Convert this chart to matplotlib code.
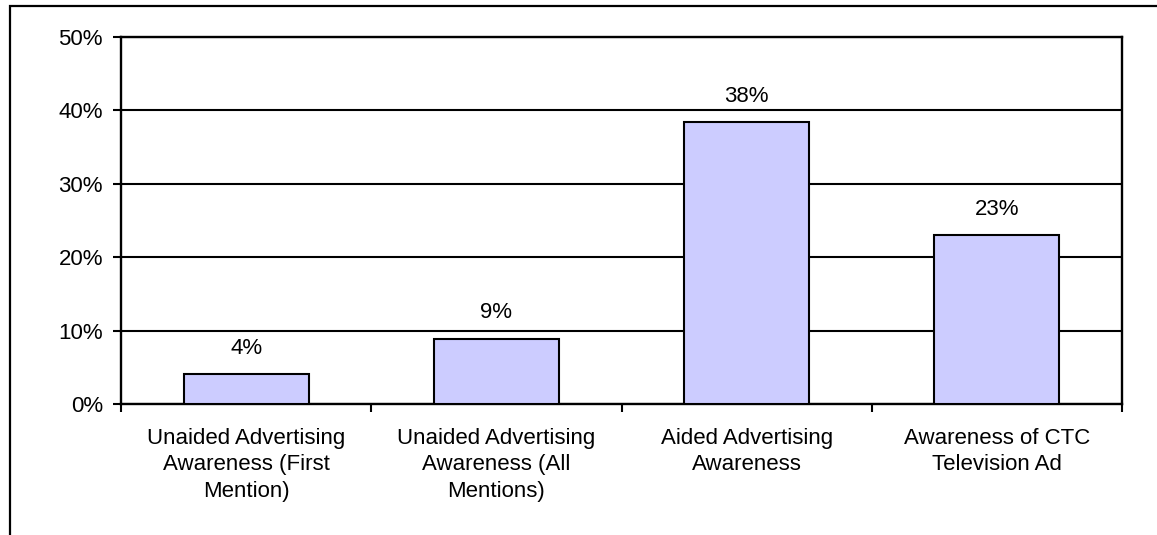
import matplotlib
matplotlib.use('Agg')
import matplotlib.pyplot as plt
from matplotlib.patches import Rectangle
import numpy as np

categories = ['Unaided Advertising\nAwareness (First\nMention)',
              'Unaided Advertising\nAwareness (All\nMentions)',
              'Aided Advertising\nAwareness',
              'Awareness of CTC\nTelevision Ad']
values = [4.1, 8.9, 38.4, 23.0]
yticks = [0, 10, 20, 30, 40, 50]

plt.rcParams['font.family'] = ['Liberation Sans', 'DejaVu Sans']

fig = plt.figure(figsize=(11.57, 5.35), dpi=100)
ax = fig.add_axes([121 / 1157, 1 - 404 / 535, 1001 / 1157, 367 / 535])

# frame around the whole chart area (runs off the right and bottom edges)
fig.patches.append(Rectangle((10 / 1157, -0.1), 1.2, 1 - 6 / 535 + 0.1,
                             transform=fig.transFigure, fill=False,
                             edgecolor='black', linewidth=1.6))

x = np.arange(len(values))
ax.bar(x, values, width=0.5, color='#CCCCFF', edgecolor='black',
       linewidth=1.5, zorder=3)
for xi, v in zip(x, values):
    ax.annotate('{:.0f}%'.format(v), (xi, v), xytext=(0, 11),
                textcoords='offset points', ha='center', va='bottom',
                fontsize=16)

ax.set_xlim(-0.5, len(values) - 0.5)
ax.set_ylim(0, 50)
ax.set_yticks(yticks)
ax.set_yticklabels(['{}%'.format(t) for t in yticks], fontsize=16)
ax.yaxis.grid(True, color='black', linewidth=1.5, zorder=0)
ax.set_axisbelow(True)

# ticks at category boundaries, labels at category centres
ax.set_xticks(np.arange(len(values) + 1) - 0.5)
ax.set_xticklabels([])
ax.set_xticks(x, minor=True)
ax.set_xticklabels(categories, minor=True, fontsize=16, linespacing=1.36)
ax.tick_params(axis='x', which='minor', length=0, pad=17)
ax.tick_params(axis='both', which='major', length=6, width=1.5,
               direction='out', pad=7)

for s in ax.spines.values():
    s.set_linewidth(1.7)
    s.set_color('black')

fig.savefig('out.png', dpi=100)
